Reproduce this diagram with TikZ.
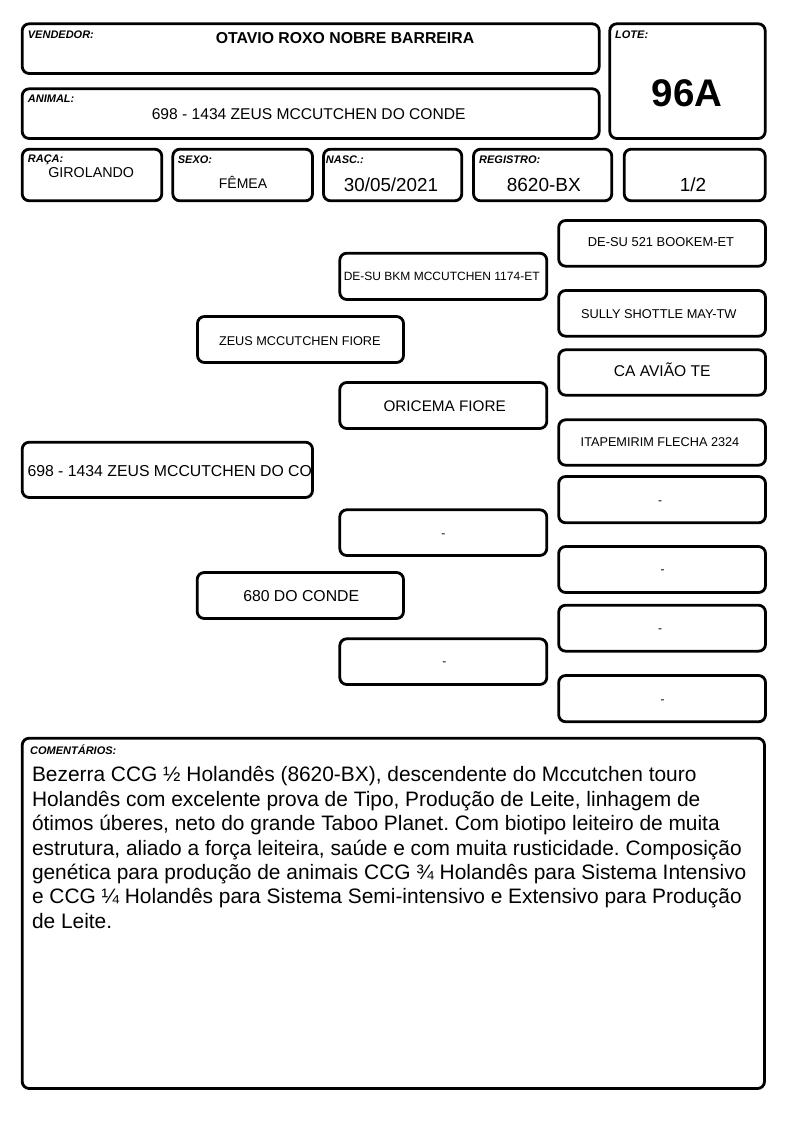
\documentclass[tikz,border=0pt]{standalone}
\usepackage{fontspec}
\setmainfont{Liberation Sans}
\newcommand{\fsz}[1]{\fontsize{#1}{#1}\selectfont}
\frenchspacing
\begin{document}
\begin{tikzpicture}[
  x=1pt, y=-1pt,
  card/.style={draw, line width=2.8pt, rounded corners=7pt},
  tag/.style={inner sep=0pt, anchor=base west, font=\fsz{11}\bfseries\itshape},
  val/.style={inner sep=0pt, anchor=base}
]
\path[fill=white, use as bounding box] (0,0) rectangle (794,1123);

% header
\draw[card] (22.2,23.8) rectangle (599.2,73.5);
\draw[card] (609.8,23.8) rectangle (765.2,138.5);
\draw[card] (22.2,88.8) rectangle (599.2,138.5);
\draw[card] (22.2,149.2) rectangle (161.8,200.8);
\draw[card] (172.8,149.2) rectangle (312.5,200.8);
\draw[card] (323.5,149.2) rectangle (461.8,200.8);
\draw[card] (473.5,149.2) rectangle (611.8,200.8);
\draw[card] (624.2,149.2) rectangle (765.2,200.8);

\node[tag] (vendtag) at (27.7,39) {VENDEDOR:};
\node[val, font=\fsz{15.8}\bfseries] (vend) at (345,43.3) {OTAVIO ROXO NOBRE BARREIRA};
\node[tag] (lotetag) at (615,39) {LOTE:};
\node[val, font=\fsz{38.5}\bfseries] (lote) at (687.3,106.7) {96A};
\node[tag] (animtag) at (27.7,103) {ANIMAL:};
\node[val, font=\fsz{15.6}] (anim) at (308.7,119.3) {698 - 1434 ZEUS MCCUTCHEN DO CONDE};
\node[tag] (racatag) at (27.7,162.5) {RAÇA:};
\node[val, font=\fsz{14.3}] (raca) at (91.2,178) {GIROLANDO};
\node[tag] (sexotag) at (177.7,164) {SEXO:};
\node[val, font=\fsz{14}] (sexo) at (243,189) {FÊMEA};
\node[tag] (nasctag) at (325.7,164) {NASC.:};
\node[val, font=\fsz{18.8}] (nasc) at (391,192) {30/05/2021};
\node[tag] (regtag) at (479,164) {REGISTRO:};
\node[val, font=\fsz{19}] (reg) at (543.8,192) {8620-BX};
\node[val, font=\fsz{19}] (parte) at (693,192) {1/2};

% pedigree
\begin{scope}
\clip[rounded corners=7pt] (22.2,442.2) rectangle (312.5,497.5);
\node[val, anchor=base west, font=\fsz{15.8}] (animal) at (27.3,476) {698 - 1434 ZEUS MCCUTCHEN DO CONDE};
\end{scope}
\draw[card] (22.2,442.2) rectangle (312.5,497.5);

\draw[card] (197.5,316.5) rectangle (403.5,362.5);
\draw[card] (197.2,572.5) rectangle (403.5,618.5);
\node[val, font=\fsz{12.7}] (pai) at (299.8,345) {ZEUS MCCUTCHEN FIORE};
\node[val, font=\fsz{15.8}] (mae) at (301.2,601) {680 DO CONDE};

\draw[card] (339.8,253.2) rectangle (546.8,299.5);
\draw[card] (339.8,382.5) rectangle (546.8,428.5);
\draw[card] (339.8,509.8) rectangle (546.8,555.5);
\draw[card] (339.8,638.8) rectangle (546.8,684.5);
\node[val, font=\fsz{12}] (avopp) at (441.7,280.5) {DE-SU BKM MCCUTCHEN 1174-ET};
\node[val, font=\fsz{15.3}] (avopm) at (444.7,411) {ORICEMA FIORE};
\node[val, font=\fsz{12}] (avomp) at (443.3,537.3) {-};
\node[val, font=\fsz{12}] (avomm) at (444.3,665) {-};

\draw[card] (558.7,220.5) rectangle (765.5,266.2);
\draw[card] (558.7,290.5) rectangle (765.5,336.2);
\draw[card] (558.7,349.8) rectangle (765.5,395.2);
\draw[card] (558.7,419.8) rectangle (765.5,465.2);
\draw[card] (558.7,476.5) rectangle (765.5,522.8);
\draw[card] (558.7,546.5) rectangle (765.5,592.5);
\draw[card] (558.7,605.2) rectangle (765.5,651.2);
\draw[card] (558.7,675.5) rectangle (765.5,721.8);
\node[val, font=\fsz{12.9}] (bisa1) at (661,247) {DE-SU 521 BOOKEM-ET};
\node[val, font=\fsz{12.8}] (bisa2) at (658.8,318.3) {SULLY SHOTTLE MAY-TW};
\node[val, font=\fsz{15.6}] (bisa3) at (662.2,376.7) {CA AVIÃO TE};
\node[val, font=\fsz{12.7}] (bisa4) at (660,446) {ITAPEMIRIM FLECHA 2324};
\node[val, font=\fsz{12}] (bisa5) at (660,504.3) {-};
\node[val, font=\fsz{12}] (bisa6) at (662.7,573.6) {-};
\node[val, font=\fsz{12}] (bisa7) at (660,632.3) {-};
\node[val, font=\fsz{12}] (bisa8) at (662.7,703.6) {-};

% comments
\draw[card] (22.2,738.2) rectangle (764.5,1088.5);
\node[tag] (comtag) at (30,754) {COMENTÁRIOS:};
\node[inner sep=0pt, anchor=north west, align=left, font=\fontsize{20.9}{24.4}\selectfont] (com) at (31.8,766.4) {Bezerra CCG ½ Holandês (8620-BX), descendente do Mccutchen touro\\
Holandês com excelente prova de Tipo, Produção de Leite, linhagem de\\
ótimos úberes, neto do grande Taboo Planet. Com biotipo leiteiro de muita\\
estrutura, aliado a força leiteira, saúde e com muita rusticidade. Composição\\
genética para produção de animais CCG ¾ Holandês para Sistema Intensivo\\
e CCG ¼ Holandês para Sistema Semi-intensivo e Extensivo para Produção\\
de Leite.};
\end{tikzpicture}
\end{document}
